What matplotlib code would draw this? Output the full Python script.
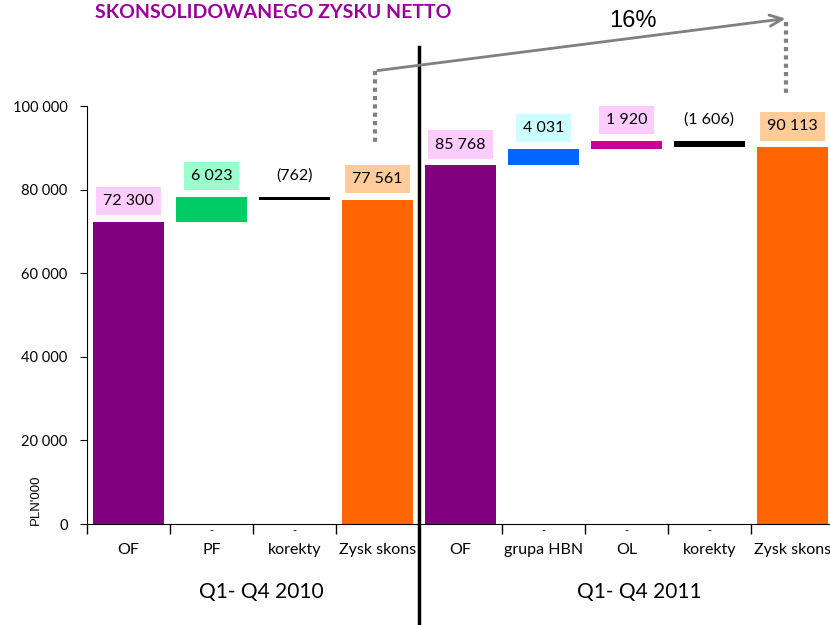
import matplotlib.pyplot as plt
import numpy as np

plt.rcParams['font.family'] = ['Lato', 'DejaVu Sans']

# waterfall data (PLN'000)
categories = ['OF', 'PF', 'korekty', 'Zysk skons', 'OF', 'grupa HBN', 'OL', 'korekty', 'Zysk skons']
bottoms = [0, 72300, 77561, 0, 0, 85768, 89799, 90113, 0]
heights = [72300, 6023, 762, 77561, 85768, 4031, 1920, 1606, 90113]
labels = ['72 300', '6 023', '(762)', '77 561', '85 768', '4 031', '1 920', '(1 606)', '90 113']
bar_colors = ['#800080', '#00CC66', '#000000', '#FF6600', '#800080', '#0066FF', '#CC0099', '#000000', '#FF6600']
box_colors = ['#FFCCFF', '#99FFCC', None, '#FFCC99', '#FFCCFF', '#CCFFFF', '#FFCCFF', None, '#FFCC99']
groups = ['Q1- Q4 2010', 'Q1- Q4 2011']

fig = plt.figure(figsize=(8.3, 6.25), dpi=100)
ax = fig.add_axes([87 / 830, 101 / 625, 747 / 830, 418 / 625])

x = np.arange(len(categories))
ax.bar(x, heights, bottom=bottoms, width=0.85, color=bar_colors)

# value labels
for i in range(len(categories)):
    top = bottoms[i] + heights[i]
    bbox = None
    if box_colors[i]:
        bbox = dict(boxstyle='square,pad=0.45', fc=box_colors[i], ec='none')
    ax.annotate(labels[i], (x[i], top), xytext=(0, 15), textcoords='offset points',
                ha='center', va='center', fontsize=11.5, bbox=bbox, annotation_clip=False)

# small dashes for zero-base points
for i in [1, 2, 5, 6, 7]:
    ax.text(x[i], -300, '-', ha='center', va='top', fontsize=8)

ax.set_xlim(-0.5, 8.5)
ax.set_ylim(0, 100000)
ax.set_yticks(np.arange(0, 100001, 20000))
ax.set_yticklabels(['0', '20 000', '40 000', '60 000', '80 000', '100 000'], fontsize=10.5)
ax.set_xticks(x)
ax.set_xticklabels(categories, fontsize=11.5)
ax.tick_params(axis='x', which='major', length=0, pad=14)
ax.set_xticks(np.arange(-0.5, 9, 1), minor=True)
ax.tick_params(axis='x', which='minor', length=7, width=1)
ax.tick_params(axis='y', length=5, pad=9)
ax.spines['top'].set_visible(False)
ax.spines['right'].set_visible(False)

ax.text(-0.068, 0.057, "PLN'000", rotation=90, transform=ax.transAxes,
        ha='center', va='center', fontsize=9.5, family=['Liberation Sans'])

# divider between years
ax.plot([3.5, 3.5], [-25000, 114000], color='black', lw=2.5, clip_on=False)

# group labels
ax.text(1.6, -16300, groups[0], ha='center', va='center', fontsize=15)
ax.text(6.15, -16300, groups[1], ha='center', va='center', fontsize=15)

# growth arrow
ax.plot([2.97, 2.97], [108400, 90700], color='gray', lw=3, ls=(0, (1, 1)), clip_on=False)
ax.plot([7.92, 7.92], [120000, 102600], color='gray', lw=3, ls=(0, (1, 1)), clip_on=False)
ax.annotate('', xy=(7.95, 121000), xytext=(2.97, 108400),
            arrowprops=dict(arrowstyle='->,head_length=0.9,head_width=0.4', color='gray', lw=2),
            annotation_clip=False)
ax.text(6.08, 120300, '16%', ha='center', va='center', fontsize=17,
        family=['Liberation Sans'])

fig.text(95 / 830, 1 - 12 / 625, 'SKONSOLIDOWANEGO ZYSKU NETTO', color='#990099',
         fontsize=14, fontweight='bold', ha='left', va='center')

fig.savefig('out.png', dpi=100)
